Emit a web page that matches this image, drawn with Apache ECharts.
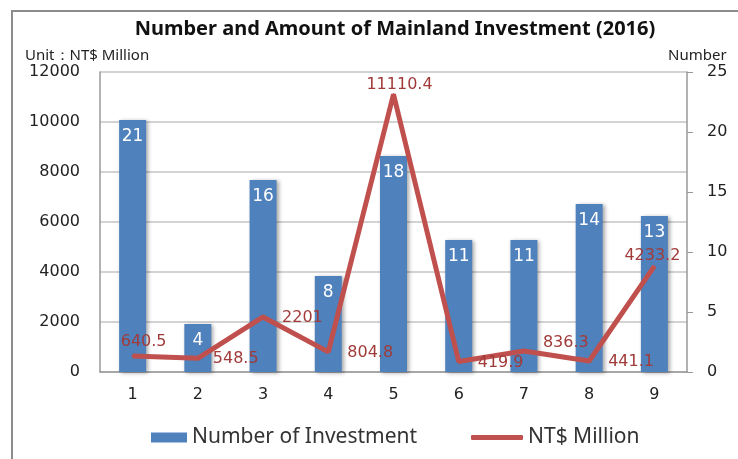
<!DOCTYPE html>
<html>
<head>
<meta charset="utf-8">
<script src="https://cdn.jsdelivr.net/npm/echarts@6/dist/echarts.min.js"></script>
<style>
  html, body { margin: 0; padding: 0; background: #fff; }
  #main { width: 738px; height: 459px; }
</style>
</head>
<body>
<div id="main"></div>
<script>
// categories (months)
const months = ['1', '2', '3', '4', '5', '6', '7', '8', '9']
// number of investment (right axis)
const counts = [21, 4, 16, 8, 18, 11, 11, 14, 13]
// amount, NT$ million (left axis)
const amounts = [640.5, 548.5, 2201, 804.8, 11110.4, 419.9, 836.3, 441.1, 4233.2]

const numFont = 'DejaVu Sans'
const txtFont = 'Noto Sans'

// label placement per point, the picture puts them a bit all over the place
const labelTweak = (i) => {
  if (i === 0) return { position: 'top', distance: 5, offset: [11, 0] }
  if (i === 4) return { position: 'top', distance: 0, offset: [6, 0] }
  if (i === 8) return { position: 'top', distance: 1, offset: [-2, 0] }
  if (i === 6) return { position: 'right', distance: 18, offset: [0, -8] }
  if (i === 1) return { position: 'right', distance: 14, offset: [0, 1] }
  return { position: 'right', distance: 18, offset: [0, 1] }
}

const myChart = echarts.init(document.getElementById('main'))

const option = {
  animation: false,
  graphic: [
    {
      type: 'rect',
      shape: { x: 12, y: 11, width: 760, height: 480 },
      style: { fill: 'none', stroke: '#8c8c8c', lineWidth: 2 },
      silent: true
    }
  ],
  title: [
    {
      text: 'Number and Amount of Mainland Investment (2016)',
      left: 390,
      textAlign: 'center',
      top: 14,
      textStyle: { fontFamily: txtFont, fontWeight: 'bold', fontSize: 20, color: '#111' }
    },
    {
      text: 'Unit：NT$ Million',
      left: 20,
      top: 43,
      textStyle: { fontFamily: txtFont, fontWeight: 'normal', fontSize: 15, color: '#222' }
    },
    {
      text: 'Number',
      left: 663,
      top: 43,
      textStyle: { fontFamily: txtFont, fontWeight: 'normal', fontSize: 15, color: '#222' }
    }
  ],
  legend: [
    {
      data: [{ name: 'Number of Investment', icon: 'rect' }],
      left: 146,
      top: 422,
      itemWidth: 36,
      itemHeight: 10,
      itemGap: 6,
      textStyle: { fontFamily: txtFont, fontSize: 21, color: '#333' }
    },
    {
      data: [{ name: 'NT$ Million', icon: 'roundRect' }],
      left: 466,
      top: 422,
      itemWidth: 52,
      itemHeight: 5,
      itemGap: 2,
      textStyle: { fontFamily: txtFont, fontSize: 21, color: '#333' }
    }
  ],
  grid: { left: 100, right: 51, top: 72, bottom: 87 },
  xAxis: {
    type: 'category',
    data: months,
    axisLine: { lineStyle: { color: '#999', width: 1.5 } },
    axisTick: { show: false },
    axisLabel: { fontFamily: numFont, fontSize: 16, color: '#222', margin: 15 }
  },
  yAxis: [
    {
      type: 'value',
      min: 0,
      max: 12000,
      interval: 2000,
      axisLine: { show: true, lineStyle: { color: '#999', width: 1.5 } },
      axisTick: { show: false },
      splitLine: { lineStyle: { color: '#c4c4c4', width: 1.5 } },
      axisLabel: { fontFamily: numFont, fontSize: 16, color: '#222', margin: 20, formatter: (v) => String(v) }
    },
    {
      type: 'value',
      min: 0,
      max: 25,
      interval: 5,
      position: 'right',
      axisLine: { show: true, lineStyle: { color: '#999', width: 1.5 } },
      axisTick: { show: true, length: 6, lineStyle: { color: '#999' } },
      splitLine: { show: false },
      axisLabel: { fontFamily: numFont, fontSize: 16, color: '#222', margin: 20 }
    }
  ],
  series: [
    {
      name: 'Number of Investment',
      type: 'bar',
      yAxisIndex: 1,
      barWidth: 27,
      data: counts,
      itemStyle: {
        color: '#4f81bd',
        shadowBlur: 4,
        shadowOffsetX: 2,
        shadowOffsetY: 1,
        shadowColor: 'rgba(0,0,0,0.35)'
      },
      label: {
        show: true,
        position: 'insideTop',
        distance: 8,
        color: '#fff',
        fontFamily: numFont,
        fontSize: 17
      },
      z: 2
    },
    {
      name: 'NT$ Million',
      type: 'line',
      yAxisIndex: 0,
      symbol: 'circle',
      symbolSize: 2,
      data: amounts.map((v, i) => ({ value: v, label: labelTweak(i) })),
      lineStyle: { color: '#c0504d', width: 5 },
      itemStyle: { color: '#c0504d' },
      label: {
        show: true,
        color: '#a03b39',
        fontFamily: numFont,
        fontSize: 16
      },
      z: 3
    }
  ]
}

option && myChart.setOption(option)
</script>
</body>
</html>
